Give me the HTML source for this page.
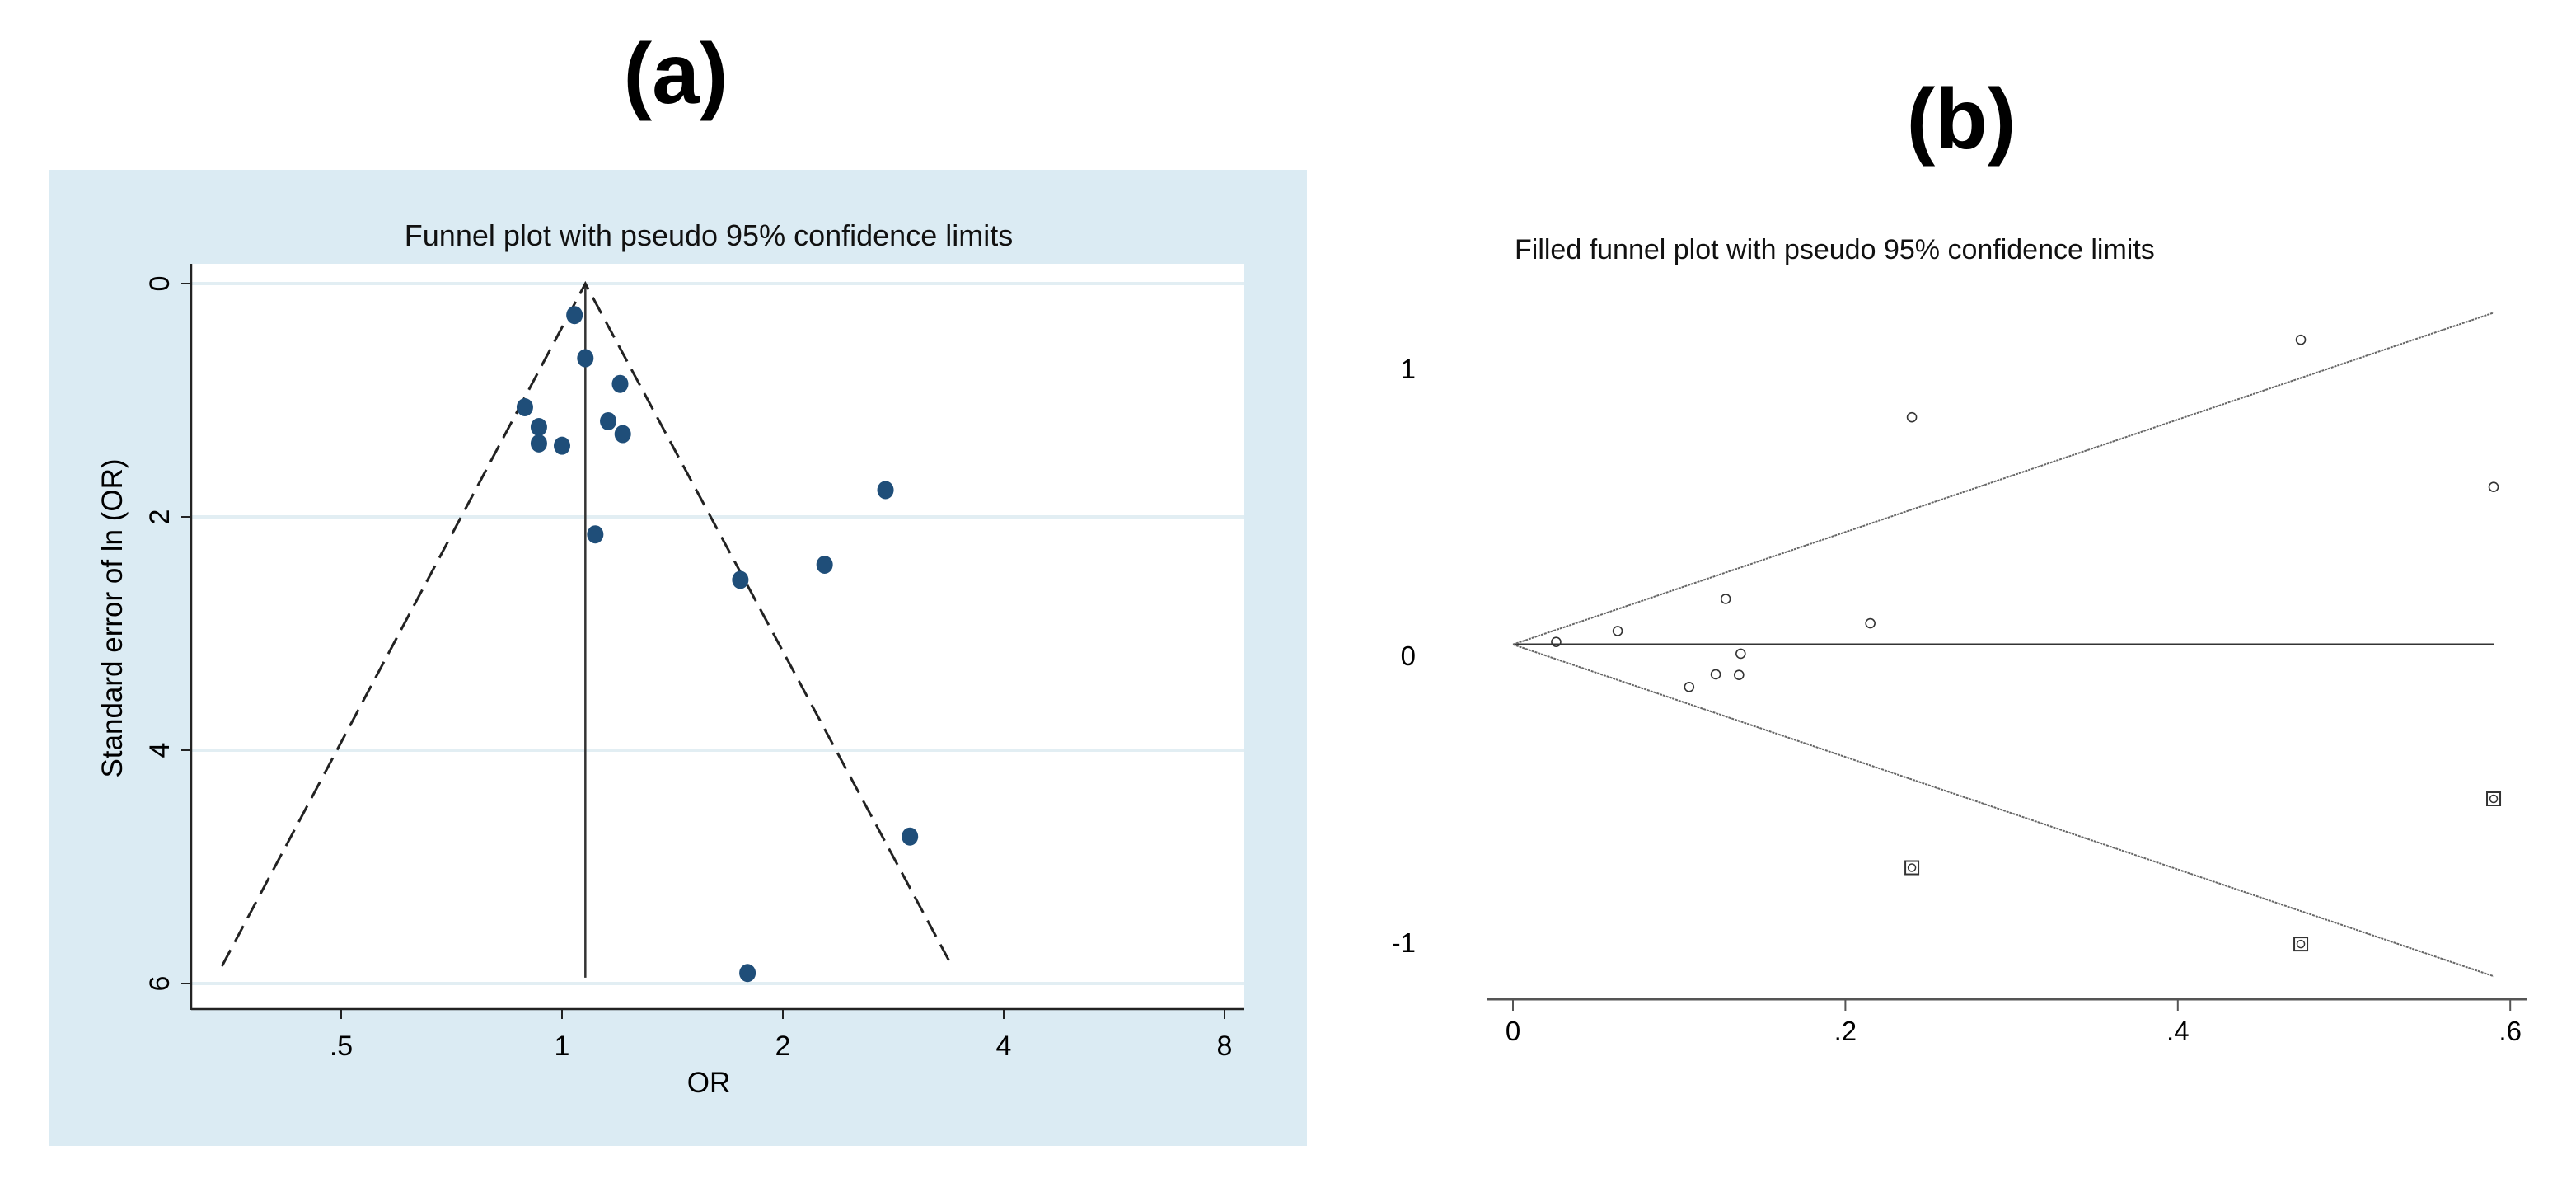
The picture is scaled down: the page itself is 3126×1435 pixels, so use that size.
<!DOCTYPE html>
<html><head><meta charset="utf-8"><style>
html,body{margin:0;padding:0;background:#fff}
svg{display:block;font-family:"Liberation Sans",Arial,sans-serif}
</style></head><body>
<svg id="s" width="3126" height="1435" viewBox="0 0 3126 1435">
<text x="820" y="125" font-size="104" font-weight="bold" text-anchor="middle">(a)</text>
<text x="2380" y="180" font-size="104" font-weight="bold" text-anchor="middle">(b)</text>
<rect x="60" y="206" width="1526" height="1184" fill="#dbebf3"/>
<rect x="232" y="320" width="1278" height="904" fill="#fff"/>
<text x="860" y="298" font-size="36" text-anchor="middle" fill="#111">Funnel plot with pseudo 95% confidence limits</text>
<text x="1838" y="314" font-size="34" fill="#111">Filled funnel plot with pseudo 95% confidence limits</text>
<g id="ga"></g><g id="gb"></g>
</svg>
<script>
// Panel (a) data
const aOR=[1.04,1.076,1.20,0.89,0.93,1.156,1.21,0.93,1.0,2.76,1.11,2.28,1.75,2.98,1.79];
const aSE=[0.27,0.64,0.86,1.06,1.23,1.18,1.29,1.37,1.39,1.77,2.15,2.41,2.54,4.74,5.91];
const aYTicks=[0,2,4,6];
const aXTicks=[0.5,1,2,4,8];
const aXLabels=[".5","1","2","4","8"];
const aPooled=1.076;
const aFunnelMaxSE=5.85;
const aFunnelLow=0.344, aFunnelHigh=3.40;
// Panel (b) data
const bX=[0.026,0.063,0.128,0.215,0.240,0.474,0.590,0.137,0.122,0.136,0.106];
const bY=[0.047,0.085,0.197,0.112,0.83,1.10,0.587,0.006,-0.066,-0.068,-0.11];
const bFX=[0.590,0.240,0.474];
const bFY=[-0.50,-0.74,-1.006];
const bXTicks=[0,0.2,0.4,0.6];
const bXLabels=["0",".2",".4",".6"];
const bYTicks=[1,0,-1];
const bTheta=0.038, bMaxSE=0.59;

const NS="http://www.w3.org/2000/svg";
function mk(p,t,a){const e=document.createElementNS(NS,t);for(const k in a)e.setAttribute(k,a[k]);p.appendChild(e);return e;}
const ga=document.getElementById('ga'), gb=document.getElementById('gb');

const ax=v=>682+Math.log2(v)*268;
const ay=v=>344+v*141.5;
aYTicks.forEach(t=>{
 const g=mk(ga,'line',{x1:232,x2:1510,y1:ay(t),y2:ay(t),stroke:'#e2eef3','stroke-width':4});
 
 
 const tk=mk(ga,'line',{x1:220,x2:232,y1:ay(t),y2:ay(t),stroke:'#222','stroke-width':2});
 
 
 const tx=mk(ga,'text',{x:0,y:0,'font-size':34,'text-anchor':'middle',transform:`translate(205,${ay(t)}) rotate(-90)`});
 tx.textContent=t;
 
 
});
aXTicks.forEach((t,i)=>{
 const tk=mk(ga,'line',{x1:ax(t),x2:ax(t),y1:1224,y2:1236,stroke:'#222','stroke-width':2});
 
 
 const tx=mk(ga,'text',{x:ax(t),y:1280,'font-size':34,'text-anchor':'middle'});
 tx.textContent=aXLabels[i];
 
 
});
let l=mk(ga,'line',{x1:232,x2:232,y1:320,y2:1225,stroke:'#222','stroke-width':2.5});


l=mk(ga,'line',{x1:232,x2:1510,y1:1224,y2:1224,stroke:'#222','stroke-width':2.5});


let t=mk(ga,'text',{x:860,y:1325,'font-size':35,'text-anchor':'middle'});t.textContent='OR';


t=mk(ga,'text',{x:0,y:0,'font-size':35,'text-anchor':'middle',transform:'translate(148,750) rotate(-90)'});t.textContent='Standard error of ln (OR)';


l=mk(ga,'line',{x1:ax(aPooled),x2:ax(aPooled),y1:ay(0),y2:ay(aFunnelMaxSE+0.1),stroke:'#333','stroke-width':2.5});


l=mk(ga,'polyline',{points:`${ax(aFunnelLow)},${ay(aFunnelMaxSE)} ${ax(aPooled)},${ay(0)} ${ax(aFunnelHigh)},${ay(aFunnelMaxSE)}`,fill:'none',stroke:'#222','stroke-width':3,'stroke-dasharray':'22,11'});


aOR.forEach((v,i)=>{
 const c=mk(ga,'ellipse',{cx:ax(v),cy:ay(aSE[i]),rx:10,ry:11,fill:'#1f4e79'});
 
 
});

const bx=v=>1836+v*2017;
const by=v=>795-v*348;
l=mk(gb,'line',{x1:1804,x2:3066,y1:1212,y2:1212,stroke:'#555','stroke-width':3});


bXTicks.forEach((v,i)=>{
 const tk=mk(gb,'line',{x1:bx(v),x2:bx(v),y1:1212,y2:1226,stroke:'#555','stroke-width':2});
 
 
 const tx=mk(gb,'text',{x:bx(v),y:1262,'font-size':33,'text-anchor':'middle'});
 tx.textContent=bXLabels[i];
 
 
});
bYTicks.forEach(v=>{
 const tx=mk(gb,'text',{x:1718,y:by(v)+12,'font-size':33,'text-anchor':'end'});
 tx.textContent=v;
 
 
});
l=mk(gb,'line',{x1:bx(0),x2:bx(bMaxSE),y1:by(bTheta),y2:by(bTheta),stroke:'#333','stroke-width':2.5});


[1,-1].forEach(s=>{
 const ln=mk(gb,'line',{x1:bx(0),y1:by(bTheta),x2:bx(bMaxSE),y2:by(bTheta+s*1.96*bMaxSE),stroke:'#666','stroke-width':2,'stroke-dasharray':'3,1'});
 
 
});
bX.forEach((v,i)=>{
 const c=mk(gb,'circle',{cx:bx(v),cy:by(bY[i]),r:5.5,fill:'none',stroke:'#333','stroke-width':1.6});
 
 
});
bFX.forEach((v,i)=>{
 const r=mk(gb,'rect',{x:bx(v)-8,y:by(bFY[i])-8,width:16,height:16,fill:'none',stroke:'#333','stroke-width':2});
 
 
 const c=mk(gb,'circle',{cx:bx(v),cy:by(bFY[i]),r:4.5,fill:'none',stroke:'#333','stroke-width':1.5});
 
 
});
</script>
</body></html>
